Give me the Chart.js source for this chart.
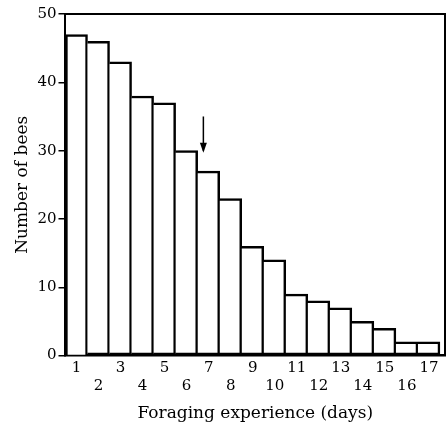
<!DOCTYPE html>
<html lang="en">
<head>
<meta charset="UTF-8">
<title>Foraging experience</title>
<script src="https://cdn.jsdelivr.net/npm/chart.js"></script>
<style>
  html, body { margin: 0; padding: 0; background: #fff; }
  #wrap { width: 446px; height: 427px; }
</style>
</head>
<body>
<div id="wrap"><canvas id="beeChart"></canvas></div>
<script>
// foraging experience (days) and number of bees
const days = [1, 2, 3, 4, 5, 6, 7, 8, 9, 10, 11, 12, 13, 14, 15, 16, 17];
const bees = [47, 46, 43, 38, 37, 30, 27, 23, 16, 14, 9, 8, 7, 5, 4, 2, 2];
const yTicks = [0, 10, 20, 30, 40, 50];
// arrow marker above day 7
const arrowDay = 6.76;
const arrowFrom = 35;
const arrowTo = 29.7;

const serif = '"DejaVu Serif", "Liberation Serif", serif';

// top and right edges of the frame, plus the arrow
const framePlugin = {
    id: 'frame',
    afterDraw(chart) {
        const { ctx, chartArea: a, scales: { x, y } } = chart;
        ctx.save();
        ctx.strokeStyle = '#000';
        ctx.lineWidth = 2;
        ctx.beginPath();
        ctx.moveTo(a.left, a.top);
        ctx.lineTo(a.right, a.top);
        ctx.lineTo(a.right, a.bottom);
        ctx.stroke();

        const ax = x.getPixelForValue(arrowDay);
        const y1 = y.getPixelForValue(arrowFrom);
        const y2 = y.getPixelForValue(arrowTo);
        ctx.lineWidth = 1.5;
        ctx.beginPath();
        ctx.moveTo(ax, y1);
        ctx.lineTo(ax, y2 - 2);
        ctx.stroke();
        ctx.fillStyle = '#000';
        ctx.beginPath();
        ctx.moveTo(ax, y2);
        ctx.lineTo(ax - 3.5, y2 - 10);
        ctx.lineTo(ax + 3.5, y2 - 10);
        ctx.closePath();
        ctx.fill();
        ctx.restore();
    }
};

new Chart(document.getElementById('beeChart'), {
    type: 'bar',
    data: {
        datasets: [{
            data: days.map((d, i) => ({ x: d, y: bees[i] })),
            backgroundColor: '#fff',
            borderColor: '#000',
            borderWidth: 2.5,
            // neighbouring bars share one edge
            borderSkipped: c => (c.dataIndex > 0 ? 'left' : 'start'),
            barPercentage: 1,
            categoryPercentage: 1
        }]
    },
    options: {
        responsive: true,
        maintainAspectRatio: false,
        animation: false,
        layout: { padding: { top: 14, right: 1, bottom: 3, left: 12 } },
        plugins: {
            legend: { display: false },
            tooltip: { enabled: false }
        },
        scales: {
            x: {
                type: 'linear',
                offset: false,
                min: 0.5,
                max: 17.73,
                afterBuildTicks: axis => { axis.ticks = days.map(v => ({ value: v })); },
                grid: { display: false, drawTicks: false },
                border: { color: '#000', width: 2.5 },
                ticks: {
                    color: '#000',
                    font: { family: serif, size: 15 },
                    padding: 4,
                    maxRotation: 0,
                    autoSkip: false,
                    callback: v => (v % 2 === 1 ? [String(v), ''] : ['', String(v)])
                },
                title: {
                    display: true,
                    text: 'Foraging experience (days)',
                    color: '#000',
                    font: { family: serif, size: 17 },
                    padding: { top: 4, bottom: 0 }
                }
            },
            y: {
                min: 0,
                max: 50,
                afterBuildTicks: axis => { axis.ticks = yTicks.map(v => ({ value: v })); },
                grid: { display: true, drawOnChartArea: false, drawTicks: true, tickLength: 7, color: '#000', lineWidth: 1.5 },
                border: { color: '#000', width: 2 },
                ticks: {
                    color: '#000',
                    font: { family: serif, size: 15 },
                    padding: 2
                },
                title: {
                    display: true,
                    text: 'Number of bees',
                    color: '#000',
                    font: { family: serif, size: 17 },
                    padding: { top: 0, bottom: 3 }
                }
            }
        }
    },
    plugins: [framePlugin]
});
</script>
</body>
</html>
